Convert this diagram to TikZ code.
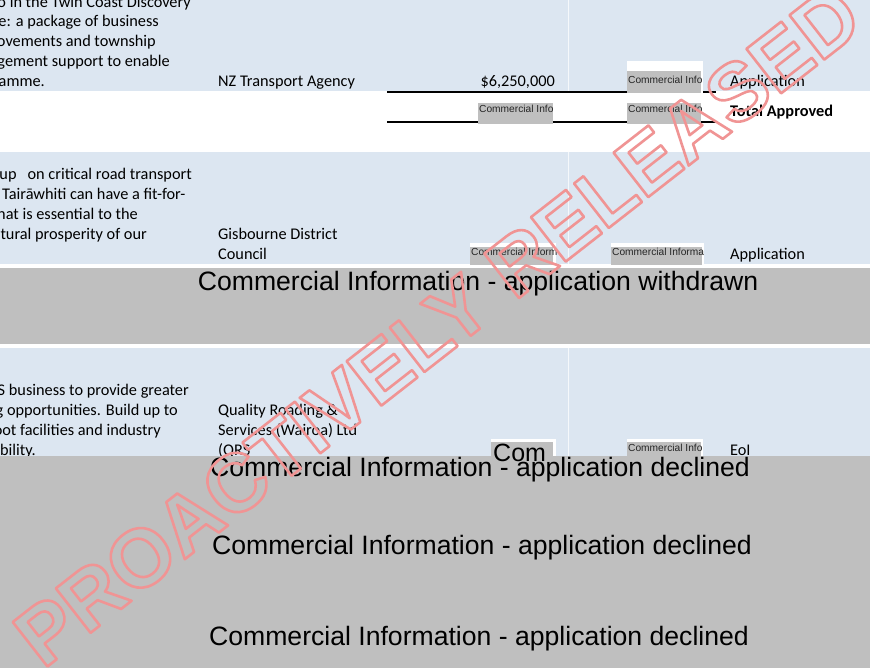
\documentclass[tikz,border=0pt]{standalone}
\usepackage{fontspec}
\setmainfont{Carlito}
\newfontfamily\arialf{Liberation Sans}
\definecolor{rowblue}{RGB}{220,230,241}
\definecolor{redact}{RGB}{191,191,191}
\definecolor{wmred}{RGB}{240,148,148}
\newcommand{\outlinetxt}[1]{\special{pdf:literal direct 1 Tr 2.6 w 1 j}#1\special{pdf:literal direct 0 Tr}}
\tikzset{
  body/.style={font=\fontsize{16.3}{19.5}\selectfont, inner sep=0pt, anchor=base west},
  bodyr/.style={body, anchor=base east},
  small/.style={font=\arialf\fontsize{10.2}{11}\selectfont, inner sep=0pt, anchor=base west, text=black!85},
  big/.style={font=\arialf\fontsize{26.6}{28}\selectfont, inner sep=0pt, anchor=center},
  graybox/.style={fill=redact, draw=none},
  whitebox/.style={fill=white, draw=none},
  rule/.style={line width=2pt, black},
  colsep/.style={white!70!rowblue, line width=0.8pt},
}
\begin{document}
\begin{tikzpicture}[x=1pt,y=-1pt]
\useasboundingbox (0,0) rectangle (870,668);
\clip (0,0) rectangle (870,668);
\fill[white] (0,0) rectangle (870,668);
% ---- row 1
\fill[rowblue] (0,0) rectangle (870,91);
\draw[colsep] (568,0) -- (568,91);
\node[bodyr] (r1a) at (191,7.5) {o in the Twin Coast Discovery};
\node[bodyr] (r1b) at (159,27) {e: a package of business};
\node[bodyr] (r1c) at (156,47) {ovements and township};
\node[bodyr] (r1d) at (170,67) {gement support to enable};
\node[bodyr] (r1e) at (45,87) {amme.};
\node[body] (r1f) at (218,87) {NZ Transport Agency};
\node[bodyr] (r1g) at (555,87) {\$6,250,000};
\node[body] (r1h) at (730,87) {Application};
\draw[rule] (387,92) -- (716,92);
\draw[rule] (387,122) -- (716,122);
\fill[whitebox] (627,61) rectangle (703,93);
\fill[graybox] (627,71) rectangle (701,93);
\node[small] (c1) at (628,83.5) {Commercial Info};
\fill[graybox] (478,103) rectangle (553,124);
\node[small] (c2) at (479,113) {Commercial Info};
\fill[graybox] (627,103) rectangle (701,124);
\node[small] (c3) at (628,113) {Commercial Info};
\node[body, font=\fontsize{16.3}{19.5}\selectfont\bfseries] (tot) at (730,117) {Total Approved};
% ---- row 2
\fill[rowblue] (0,152) rectangle (870,264);
\draw[colsep] (568,152) -- (568,264);
\node[bodyr] (r2a) at (192,180) {up\ \ \ on critical road transport};
\node[body] (r2b) at (2,200) {Tairāwhiti can have a fit-for-};
\node[body] (r2c) at (-3,220) {hat is essential to the};
\node[bodyr] (r2d) at (147,240) {tural prosperity of our};
\node[body] (r2e) at (218,240) {Gisbourne District};
\node[body] (r2f) at (218,260) {Council};
\fill[whitebox] (470,243) rectangle (556,264);
\fill[graybox] (470,247) rectangle (553,265);
\node[small] (c4) at (471,256) {Commercial Inform};
\fill[whitebox] (611,243) rectangle (704,264);
\fill[graybox] (611,247) rectangle (702,265);
\node[small] (c5) at (612,256) {Commercial Informa};
\node[body] (r2g) at (730,260) {Application};
\fill[redact] (0,268) rectangle (870,344);
\node[big] (wd) at (478,284) {Commercial Information - application withdrawn};
% ---- row 3
\fill[rowblue] (0,348) rectangle (870,456);
\draw[colsep] (568,348) -- (568,456);
\node[bodyr] (r3a) at (189,395) {S business to provide greater};
\node[bodyr] (r3b) at (178,415) {g opportunities. Build up to};
\node[bodyr] (r3c) at (161,435) {oot facilities and industry};
\node[bodyr] (r3d) at (36,455) {bility.};
\node[body] (r3e) at (218,415) {Quality Roading \&};
\node[body] (r3f) at (218,435) {Services (Wairoa) Ltd};
\node[body] (r3g) at (218,455) {(QRS};
\fill[whitebox] (491,439) rectangle (556,456);
\fill[graybox] (491,442) rectangle (553,456);
\fill[whitebox] (627,439) rectangle (703,456);
\fill[graybox] (627,442) rectangle (701,456);
\node[small] (c6) at (628,451) {Commercial Info};
\node[body] (r3h) at (730,455) {EoI};
\fill[redact] (0,456) rectangle (870,668);
\node[font=\arialf\fontsize{25}{26}\selectfont, inner sep=0pt, anchor=base west] (com) at (493,461) {Com};
\node[big] (dc1) at (480,470) {Commercial Information - application declined};
\node[big] (dc2) at (482,548) {Commercial Information - application declined};
\node[big] (dc3) at (479,639) {Commercial Information - application declined};
% ---- watermark
\node[anchor=base west, rotate=38, inner sep=0pt, text=wmred,
      font=\arialf\bfseries\fontsize{82}{82}\selectfont] (wmk) at (43,670) {\outlinetxt{PROACTIVELY RELEASED}};
\end{tikzpicture}
\end{document}
